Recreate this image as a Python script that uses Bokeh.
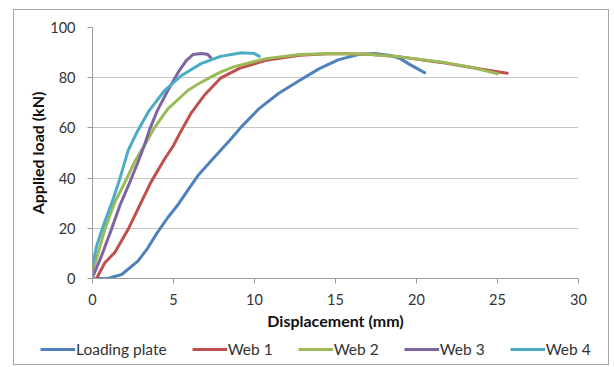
from bokeh.plotting import figure
from bokeh.models import Legend, LegendItem, FixedTicker, Range1d
from bokeh.embed import file_html
from bokeh.resources import INLINE

# ---- data ----
plate_x = [0.2, 1.0, 1.8, 2.8, 3.4, 4.0, 4.65, 5.3, 5.9, 6.5, 7.2, 7.9, 8.6, 9.2, 10.3, 11.5, 12.8, 14.0, 15.2, 16.4, 17.4, 18.4, 19.0, 19.6, 20.1, 20.5]
plate_y = [0, 0.1, 1.6, 6.9, 12, 18.3, 24.3, 29.6, 35.3, 40.9, 46, 51, 56, 60.5, 67.8, 73.8, 79, 83.6, 87.2, 89.2, 89.6, 88.8, 87.6, 85.2, 83.4, 82]

web1_x = [0.25, 0.76, 1.37, 2.2, 2.9, 3.6, 4.45, 5.0, 5.4, 6.1, 6.9, 7.9, 9.1, 10.7, 12.8, 14.8, 17.0, 19.0, 21.5, 23.3, 25.0, 25.6]
web1_y = [0, 6.3, 10.3, 19.6, 28.9, 38.3, 47.6, 53, 58, 66, 73, 79.8, 83.8, 86.9, 88.9, 89.6, 89.3, 88.3, 86.1, 84.2, 82.4, 81.8]

web2_x = [0.0, 0.04, 0.35, 0.76, 1.37, 2.0, 2.6, 3.2, 3.8, 4.65, 5.9, 6.6, 7.3, 7.9, 8.75, 10.7, 12.8, 14.8, 17.0, 19.0, 21.5, 23.3, 25.0]
web2_y = [0, 3.6, 10.3, 19.6, 30.3, 38.3, 46.5, 53, 59.8, 67.6, 75, 77.8, 80.2, 82.2, 84.4, 87.6, 89.2, 89.6, 89.3, 88.3, 86.3, 84.3, 81.6]

web3_x = [0.0, 0.04, 0.55, 1.17, 1.68, 2.3, 2.8, 3.2, 3.5, 4.0, 4.65, 5.3, 5.8, 6.2, 6.7, 7.1, 7.3]
web3_y = [0, 1, 8.9, 19.6, 28.9, 38.3, 46.3, 53, 58.9, 66.9, 74.9, 82.3, 86.9, 89.2, 89.6, 89.3, 88]

web4_x = [0.0, 0.0, 0.25, 0.66, 1.27, 1.68, 2.2, 2.8, 3.5, 4.45, 5.5, 6.7, 7.9, 9.2, 10.0, 10.3]
web4_y = [0, 4.9, 12.9, 20.9, 31.6, 39.6, 51, 59, 66.9, 74.9, 80.9, 85.6, 88.5, 89.9, 89.6, 88.5]

series_names = ["Loading plate", "Web 1", "Web 2", "Web 3", "Web 4"]
series_colors = ["#4F81BD", "#C0504D", "#9BBB59", "#8064A2", "#4BACC6"]
x_ticks = [0, 5, 10, 15, 20, 25, 30]
y_ticks = [0, 20, 40, 60, 80, 100]

FONT = "Lato"
BORDER = "1px solid #A6A6A6"

p = figure(width=596, height=325, output_backend="svg", toolbar_location=None,
           x_range=Range1d(0, 30), y_range=Range1d(0, 100),
           min_border_left=78, min_border_right=32, min_border_top=17, min_border_bottom=57)
p.margin = (9, 0, 0, 13)
p.styles = {"border-top": BORDER, "border-left": BORDER, "border-right": BORDER}
p.outline_line_color = None
p.background_fill_color = "white"
p.border_fill_color = "white"

p.xgrid.visible = False
p.ygrid.grid_line_color = "#C6C6C6"
p.ygrid.grid_line_width = 1
p.ygrid.ticker = FixedTicker(ticks=y_ticks)

for ax in (p.xaxis[0], p.yaxis[0]):
    ax.axis_line_color = "#9A9A9A"
    ax.major_tick_line_color = "#9A9A9A"
    ax.major_tick_out = 5
    ax.major_tick_in = 0
    ax.minor_tick_line_color = None
    ax.major_label_text_font = FONT
    ax.major_label_text_font_size = "14.5px"
    ax.major_label_text_color = "#333333"
    ax.axis_label_text_font = FONT
    ax.axis_label_text_font_size = "16px"
    ax.axis_label_text_font_style = "bold"
    ax.axis_label_text_color = "#111111"

p.xaxis[0].ticker = FixedTicker(ticks=x_ticks)
p.yaxis[0].ticker = FixedTicker(ticks=y_ticks)
p.xaxis[0].axis_label = "Displacement (mm)"
p.yaxis[0].axis_label = "Applied load (kN)"
p.xaxis[0].major_label_standoff = 10
p.yaxis[0].major_label_standoff = 12
p.xaxis[0].axis_label_standoff = 3
p.yaxis[0].axis_label_standoff = 0

data = [(plate_x, plate_y), (web1_x, web1_y), (web2_x, web2_y), (web3_x, web3_y), (web4_x, web4_y)]
for (xs, ys), col in zip(data, series_colors):
    p.line(xs, ys, line_color=col, line_width=3, line_join="round", line_cap="round")

# legend strip (separate root below, same series, out of its visible range)
pl = figure(width=596, height=31, output_backend="svg", toolbar_location=None,
            x_range=Range1d(0, 30), y_range=Range1d(1000, 1001),
            x_axis_location=None, y_axis_location=None,
            min_border_left=0, min_border_right=0, min_border_top=0, min_border_bottom=0)
pl.margin = (0, 0, 0, 13)
pl.styles = {"border-bottom": BORDER, "border-left": BORDER, "border-right": BORDER}
pl.grid.visible = False
pl.outline_line_color = None
items = []
for (xs, ys), name, col in zip(data, series_names, series_colors):
    r = pl.line(xs, ys, line_color=col, line_width=3)
    items.append(LegendItem(label=name, renderers=[r]))
legend = Legend(items=items, orientation="horizontal", location=(26, 6),
                glyph_width=35, glyph_height=20, label_height=20, label_standoff=1,
                spacing=25, padding=0, margin=0,
                label_text_font=FONT, label_text_font_size="15.5px", label_text_color="#333333",
                border_line_alpha=0, background_fill_alpha=0)
pl.add_layout(legend, "center")

open("out.html", "w").write(file_html([p, pl], INLINE))
